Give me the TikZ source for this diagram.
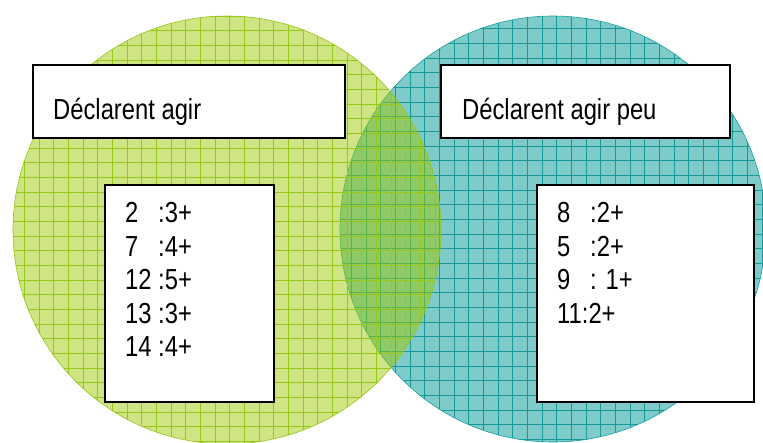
\documentclass[tikz,border=0pt]{standalone}
\usepackage{fontspec}
\setmainfont{Liberation Sans}[FakeStretch=0.82]
\definecolor{leafbase}{RGB}{159,201,7}
\definecolor{leafgrid}{RGB}{150,200,25}
\definecolor{leafedge}{RGB}{150,198,20}
\definecolor{tealbase}{RGB}{0,151,147}
\definecolor{tealgrid}{RGB}{20,152,152}
\definecolor{tealedge}{RGB}{20,160,160}
\newcommand{\numlist}[1]{\parbox[t]{150pt}{\raggedright\fontsize{29}{33.6}\selectfont #1}}
\tikzset{
  titlebox/.style={draw=black, line width=1.8pt, fill=white, anchor=north west, inner sep=0pt},
  txt/.style={anchor=base west, inner sep=0pt, font=\fontsize{29}{33.6}\selectfont},
}
\begin{document}
\begin{tikzpicture}[x=1pt,y=-1pt]
\useasboundingbox (0,0) rectangle (763,442);
% right (teal) circle
\fill[tealbase, fill opacity=0.5] (553,229) circle[radius=213pt];
\begin{scope}
  \clip (553,229) circle[radius=213pt];
  \draw[tealgrid, line width=0.7pt, step=14.67pt, xshift=13.86pt, yshift=-13.9pt] (-30,-30) grid (800,480);
\end{scope}
\draw[tealedge, line width=0.6pt] (553,229) circle[radius=213pt];
% left (green) circle
\fill[leafbase, fill opacity=0.5] (227,230) circle[radius=214pt];
\begin{scope}
  \clip (227,230) circle[radius=214pt];
  \draw[leafgrid, line width=0.7pt, step=14.67pt, xshift=9.62pt, yshift=-1.33pt] (-30,-30) grid (800,480);
\end{scope}
\draw[leafedge, line width=0.6pt] (227,230) circle[radius=214pt];
% boxes
\node[titlebox, minimum width=312pt, minimum height=73pt] (tl) at (32,64) {};
\node[titlebox, minimum width=289pt, minimum height=73pt] (tr) at (440,64) {};
\node[titlebox, minimum width=169pt, minimum height=217pt] (nl) at (104,184) {};
\node[titlebox, minimum width=217pt, minimum height=217pt] (nr) at (536,184) {};
% texts
\node[txt] (tlt) at (53,119) {Déclarent agir};
\node[txt] (trt) at (462,119) {Déclarent agir peu};
\node[txt] (nlt) at (125,222.5) {\numlist{2\phantom{1} :3+\\7\phantom{1} :4+\\12 :5+\\13 :3+\\14 :4+}};
\node[txt] (nrt) at (557,222.5) {\numlist{8\phantom{1} :2+\\5\phantom{1} :2+\\9\phantom{1} : 1+\\11:2+}};
\end{tikzpicture}
\end{document}
